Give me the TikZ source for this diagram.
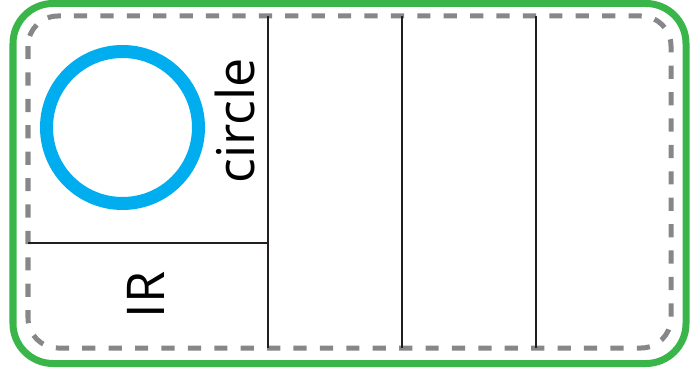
\documentclass[tikz,border=0pt]{standalone}
\usepackage{xcolor}
\usepackage{tikz}
\usepackage{fontspec}
\setmainfont{Open Sans}
\usetikzlibrary{positioning}
\definecolor{boardgreen}{HTML}{3AB54A}
\definecolor{boardgray}{HTML}{87878A}
\definecolor{boardblue}{HTML}{00AEEF}
\definecolor{boardline}{HTML}{231F20}

\begin{document}
\begin{tikzpicture}[
  x=0.025cm, y=-0.025cm,
  outline/.style={draw=boardgreen, line width=0.175cm, rounded corners=1.0cm},
  keepout/.style={draw=boardgray, line width=0.125cm, dash pattern=on 0.33cm off 0.33cm, rounded corners=0.75cm},
  divider/.style={draw=boardline, line width=0.05cm},
  lbl/.style={font=\fontsize{37}{40}\selectfont, inner sep=0pt, rotate=90, anchor=base}
]
\useasboundingbox (0,0) rectangle (695,374);
\draw[outline] (13,3.5) rectangle (686,363.5);
\draw[keepout] (28,16) rectangle (671,348);

\draw[divider] (268,16) -- (268,348);
\draw[divider] (402,16) -- (402,348);
\draw[divider] (536,16) -- (536,348);
\draw[divider] (28,243) -- (268,243);

\draw[boardblue, line width=0.325cm] (122.5,127.5) circle [radius=76];

\node[lbl] (circlelbl) at (254,121) {circle};
\node[lbl] (irlbl) at (164,295) {IR};
\end{tikzpicture}
\end{document}
